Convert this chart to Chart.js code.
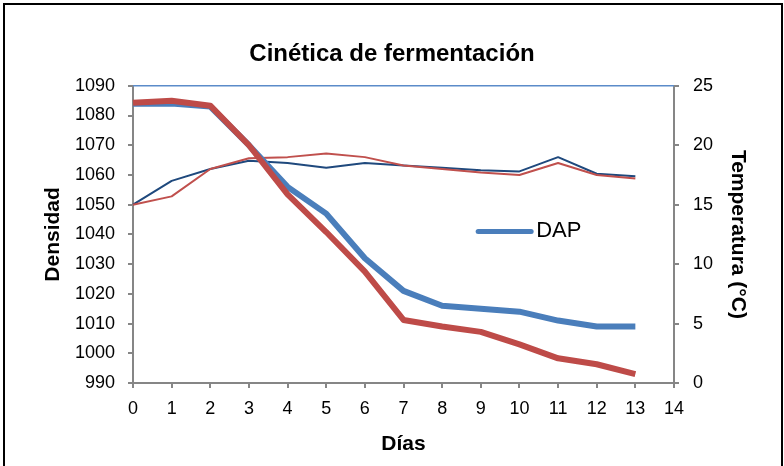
<!DOCTYPE html>
<html>
<head>
<meta charset="utf-8">
<script src="https://cdn.jsdelivr.net/npm/chart.js@4/dist/chart.umd.min.js"></script>
<style>
    html, body { margin: 0; padding: 0; background: #fff; }
    #wrap { position: relative; width: 784px; height: 466px; overflow: hidden; }
    #frame { position: absolute; left: 3px; top: 3px; width: 776px; height: 480px;
             border: 2px solid #000; pointer-events: none; }
</style>
</head>
<body>
<div id="wrap">
    <canvas id="fermChart" width="784" height="466"></canvas>
    <div id="frame"></div>
</div>
<script>
/* ============================================================
   Cinética de fermentación — densidad / temperatura
   ============================================================ */

// ── Data ────────────────────────────────────────────────
var dias = ['0', '1', '2', '3', '4', '5', '6', '7', '8', '9', '10', '11', '12', '13', '14'];

// densidad (eje izquierdo)
var densDAP   = [1084, 1084, 1083, 1070, 1056, 1047, 1032, 1021, 1016, 1015, 1014, 1011, 1009, 1009];
var densOtro  = [1084.3, 1085, 1083.3, 1070, 1053.5, 1040.8, 1027.5, 1011.2, 1009, 1007.2, 1003, 998.3, 996.3, 993];

// temperatura °C (eje derecho)
var tempDAP   = [15, 17, 18, 18.7, 18.5, 18.1, 18.5, 18.3, 18.1, 17.9, 17.8, 19.0, 17.6, 17.4];
var tempOtro  = [15, 15.7, 18, 18.9, 19.0, 19.3, 19.0, 18.3, 18.0, 17.7, 17.5, 18.5, 17.5, 17.2];

var legendLabel = 'DAP';

// ── Colors / fonts ──────────────────────────────────────
var colorBlue  = '#4A7EBB';
var colorRed   = '#BE4B48';
var colorNavy  = '#1F497D';
var colorAxis  = '#868686';
var sans       = '"Liberation Sans", Arial, sans-serif';

Chart.defaults.color = '#000';

// top line of plot area + DAP legend drawn inside the plot
var plotExtras = {
    id: 'plotExtras',
    afterDraw: function (chart) {
        var ctx = chart.ctx, a = chart.chartArea;
        ctx.save();
        ctx.strokeStyle = '#5B8BC9';
        ctx.lineWidth = 1.5;
        ctx.beginPath();
        ctx.moveTo(a.left, a.top);
        ctx.lineTo(a.right, a.top);
        ctx.stroke();

        var lx = a.left + (a.right - a.left) * 0.638;
        var ly = a.top + (a.bottom - a.top) * 0.49;
        ctx.strokeStyle = colorBlue;
        ctx.lineWidth = 5;
        ctx.lineCap = 'round';
        ctx.beginPath();
        ctx.moveTo(lx, ly);
        ctx.lineTo(lx + 53, ly);
        ctx.stroke();

        ctx.fillStyle = '#000';
        ctx.font = '22px ' + sans;
        ctx.textBaseline = 'middle';
        ctx.fillText(legendLabel, lx + 58, ly);
        ctx.restore();
    }
};

function axisGrid() {
    return { drawOnChartArea: false, drawTicks: true, tickLength: 5, color: colorAxis, lineWidth: 2 };
}

function plainTick(val) { return String(val); }

new Chart(document.getElementById('fermChart'), {
    type: 'line',
    data: {
        labels: dias,
        datasets: [
            { label: 'Otro', data: densOtro, yAxisID: 'y', borderColor: colorRed,  borderWidth: 6, order: 1 },
            { label: 'DAP',  data: densDAP,  yAxisID: 'y', borderColor: colorBlue, borderWidth: 6, order: 2 },
            { label: 'T otro', data: tempOtro, yAxisID: 'y2', borderColor: '#C0504D', borderWidth: 2, order: 3 },
            { label: 'T DAP',  data: tempDAP,  yAxisID: 'y2', borderColor: colorNavy, borderWidth: 2, order: 4 }
        ]
    },
    options: {
        responsive: false,
        animation: false,
        layout: { padding: 0 },
        elements: {
            point: { radius: 0 },
            line: { tension: 0, borderJoinStyle: 'round', fill: false }
        },
        plugins: {
            legend: { display: false },
            tooltip: { enabled: false },
            title: {
                display: true,
                text: 'Cinética de fermentación',
                font: { family: sans, size: 24, weight: 'bold' },
                padding: { top: 40, bottom: 17 }
            }
        },
        scales: {
            x: {
                grid: axisGrid(),
                border: { color: colorAxis, width: 2 },
                ticks: { font: { family: sans, size: 18 }, padding: 10, maxRotation: 0, autoSkip: false },
                title: { display: true, text: 'Días', font: { family: sans, size: 21, weight: 'bold' },
                         padding: { top: 0, bottom: 9 } },
                afterFit: function (s) { s.height = 83; }
            },
            y: {
                position: 'left',
                min: 990, max: 1090,
                grid: axisGrid(),
                border: { color: colorAxis, width: 2 },
                ticks: { stepSize: 10, font: { family: sans, size: 18 }, padding: 13, callback: plainTick },
                title: { display: true, text: 'Densidad', font: { family: sans, size: 21, weight: 'bold' },
                         padding: { top: 41, bottom: 0 } },
                afterFit: function (s) { s.width = 133; }
            },
            y2: {
                position: 'right',
                min: 0, max: 25,
                grid: axisGrid(),
                border: { color: colorAxis, width: 2 },
                ticks: { stepSize: 5, font: { family: sans, size: 18 }, padding: 14, callback: plainTick },
                title: { display: true, text: 'Temperatura (°C)', font: { family: sans, size: 21, weight: 'bold' },
                         padding: { top: 34, bottom: 0 } },
                afterFit: function (s) { s.width = 110; }
            }
        }
    },
    plugins: [plotExtras]
});
</script>
</body>
</html>
